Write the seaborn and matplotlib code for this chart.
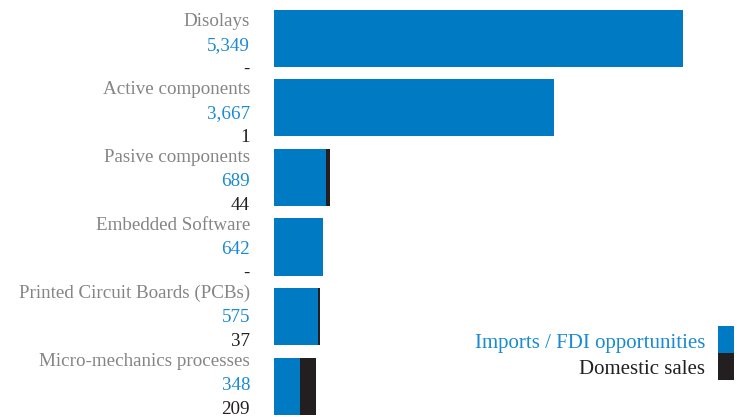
import matplotlib
matplotlib.use("Agg")
import matplotlib.pyplot as plt
import seaborn as sns
import pandas as pd
from matplotlib.patches import Rectangle

categories = ["Disolays", "Active components", "Pasive components",
              "Embedded Software", "Printed Circuit Boards (PCBs)",
              "Micro-mechanics processes"]
imports_fdi = [5349, 3667, 689, 642, 575, 348]
domestic = [0, 1, 44, 0, 37, 209]

BLUE = "#007AC2"
BLUE_TEXT = "#1A8AD2"
DARK = "#231F20"
GREY = "#858585"

sns.set_theme(style="white")
plt.rcParams["font.family"] = ["Liberation Serif", "DejaVu Serif"]

df = pd.DataFrame({"category": categories,
                   "imports": imports_fdi,
                   "domestic": domestic})
df["total"] = df["imports"] + df["domestic"]

W, H = 741, 417
fig = plt.figure(figsize=(W / 100, H / 100), dpi=100)
ax = fig.add_axes([273.5 / W, -4 / H, (683 - 273.5) / W, 417.6 / H])

sns.barplot(data=df, y="category", x="total", color=DARK, orient="h",
            width=0.82, saturation=1, linewidth=0, ax=ax)
sns.barplot(data=df, y="category", x="imports", color=BLUE, orient="h",
            width=0.82, saturation=1, linewidth=0, ax=ax)

ax.set_xlim(0, max(imports_fdi))
ax.set_ylim(len(categories) - 0.5, -0.5)
ax.set_axis_off()


def px_text(x, y, s, **kw):
    """Place text using pixel coordinates measured from the top-left."""
    fig.text(x / W, 1 - y / H, s, **kw)


fs = 13.7
for i, row in df.iterrows():
    base = 26 + 68 * i
    px_text(250, base, row["category"], ha="right", va="baseline",
            color=GREY, fontsize=fs)
    px_text(250, base + 24, f"{row['imports']:,}", ha="right",
            va="baseline", color=BLUE_TEXT, fontsize=fs)
    dom = f"{row['domestic']:,}" if row["domestic"] else "-"
    px_text(250, base + 48, dom, ha="right", va="baseline",
            color=DARK, fontsize=fs)

# legend: labels on the left, colour swatches on the right edge
px_text(705, 348, "Imports / FDI opportunities", ha="right",
        va="baseline", color=BLUE_TEXT, fontsize=15)
px_text(705, 374, "Domestic sales", ha="right",
        va="baseline", color=DARK, fontsize=15)
fig.add_artist(Rectangle((718 / W, 1 - 353 / H), 16 / W, 27 / H,
                         transform=fig.transFigure, color=BLUE, lw=0))
fig.add_artist(Rectangle((718 / W, 1 - 380 / H), 16 / W, 27 / H,
                         transform=fig.transFigure, color=DARK, lw=0))

fig.savefig("out.png", dpi=100, facecolor="white")
